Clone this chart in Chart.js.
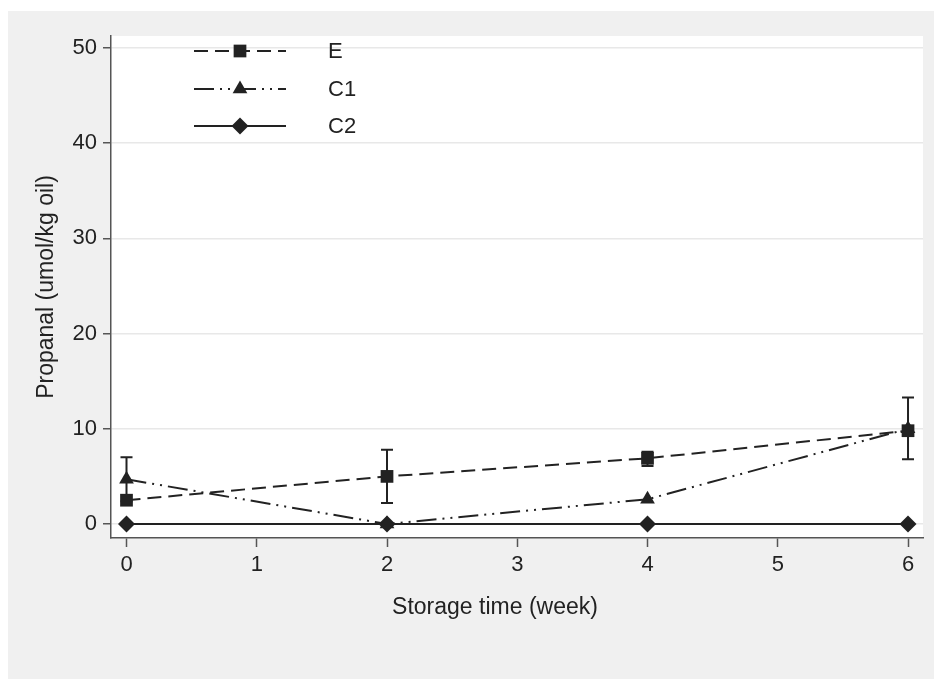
<!DOCTYPE html>
<html>
<head>
<meta charset="utf-8">
<script src="https://cdn.jsdelivr.net/npm/chart.js@4.4.1/dist/chart.umd.min.js"></script>
<style>
  body { margin: 0; background: #fff; }
  #wrap { width: 934px; height: 679px; }
</style>
</head>
<body>
<div id="wrap"><canvas id="myChart"></canvas></div>
<script>
'use strict';
let weeks = [0, 2, 4, 6];
let seriesNames = ['E', 'C1', 'C2'];
let eValues = [2.5, 5.0, 6.9, 9.8];
let c1Values = [4.7, 0, 2.6, 10.0];
let c2Values = [0, 0, 0, 0];
// error bars (low / high), null where there is none
let eLow = [null, 2.2, 6.1, null];
let eHigh = [null, 7.8, 7.6, null];
let c1Low = [2.4, null, null, 6.8];
let c1High = [7.0, null, null, 13.3];
let xTicks = [0, 1, 2, 3, 4, 5, 6];
let yTicks = [0, 10, 20, 30, 40, 50];
let xTitle = 'Storage time (week)';
let yTitle = 'Propanal (umol/kg oil)';

let ink = '#222222';
let fontFam = "'Liberation Sans', Arial, Helvetica, sans-serif";

function toPoints(vals) {
  let pts = [];
  for (let i = 0; i < weeks.length; i++) {
    pts.push({x: weeks[i], y: vals[i]});
  }
  return pts;
}

let datasets = [
  {
    label: seriesNames[0], data: toPoints(eValues),
    borderDash: [14, 7], pointStyle: 'rect', pointRadius: 9,
    errLow: eLow, errHigh: eHigh
  },
  {
    label: seriesNames[1], data: toPoints(c1Values),
    borderDash: [20, 6, 2, 6, 2, 6], pointStyle: 'triangle', pointRadius: 8.5,
    errLow: c1Low, errHigh: c1High
  },
  {
    label: seriesNames[2], data: toPoints(c2Values),
    borderDash: [], pointStyle: 'rectRot', pointRadius: 8.5
  }
];
datasets.forEach(function (ds) {
  ds.borderColor = ink;
  ds.backgroundColor = ink;
  ds.pointBackgroundColor = ink;
  ds.pointBorderColor = ink;
  ds.pointBorderWidth = 0;
  ds.borderWidth = 2;
  ds.tension = 0;
  ds.pointHoverRadius = ds.pointRadius;
});

let backPlugin = {
  id: 'backPlugin',
  beforeDraw(chart) {
    let c = chart.ctx;
    let a = chart.chartArea;
    c.save();
    c.fillStyle = '#f0f0f0';
    c.fillRect(8, 11, chart.width - 8, chart.height - 11);
    c.fillStyle = '#ffffff';
    c.fillRect(a.left, a.top, a.right - a.left, a.bottom - a.top);
    c.restore();
  }
};

let errorPlugin = {
  id: 'errorPlugin',
  beforeDatasetsDraw(chart) {
    let c = chart.ctx;
    let xs = chart.scales.x;
    let ys = chart.scales.y;
    c.save();
    c.strokeStyle = ink;
    c.lineWidth = 2;
    chart.data.datasets.forEach(function (ds) {
      if (!ds.errLow) return;
      for (let i = 0; i < weeks.length; i++) {
        if (ds.errLow[i] === null) continue;
        let px = xs.getPixelForValue(weeks[i]);
        let lo = ys.getPixelForValue(ds.errLow[i]);
        let hi = ys.getPixelForValue(ds.errHigh[i]);
        c.beginPath();
        c.moveTo(px, lo); c.lineTo(px, hi);
        c.moveTo(px - 6, lo); c.lineTo(px + 6, lo);
        c.moveTo(px - 6, hi); c.lineTo(px + 6, hi);
        c.stroke();
      }
    });
    c.restore();
  }
};

let legendPlugin = {
  id: 'legendPlugin',
  afterDraw(chart) {
    let c = chart.ctx;
    let rows = [51, 89, 126];
    c.save();
    chart.data.datasets.forEach(function (ds, i) {
      let y = rows[i];
      c.strokeStyle = ink;
      c.lineWidth = 2;
      c.setLineDash(ds.borderDash);
      c.beginPath();
      c.moveTo(194, y); c.lineTo(286, y);
      c.stroke();
      c.setLineDash([]);
      c.fillStyle = ink;
      Chart.helpers.drawPoint(c, {pointStyle: ds.pointStyle, radius: ds.pointRadius, rotation: 0, borderWidth: 0}, 240, y);
      c.fillStyle = ink;
      c.font = '22px ' + fontFam;
      c.textBaseline = 'middle';
      c.textAlign = 'left';
      c.fillText(ds.label, 328, y + 1);
    });
    // x axis title sits a little left of the plot centre
    c.font = '23px ' + fontFam;
    c.textAlign = 'center';
    c.textBaseline = 'middle';
    c.fillText(xTitle, 495, 608);
    c.restore();
  }
};

let ctx = document.getElementById('myChart').getContext('2d');

let myChartObj = {
  type: 'line',
  data: { datasets: datasets },
  plugins: [backPlugin, errorPlugin, legendPlugin],
  options: {
    responsive: true,
    maintainAspectRatio: false,
    animation: false,
    layout: { padding: { top: 36, right: 11, left: 0, bottom: 0 } },
    plugins: {
      legend: { display: false },
      tooltip: { enabled: false }
    },
    scales: {
      x: {
        type: 'linear',
        min: -0.119,
        max: 6.115,
        afterBuildTicks(scale) { scale.ticks = xTicks.map(v => ({value: v})); },
        afterFit(scale) { scale.height = 141; },
        border: { color: '#555555', width: 1.5 },
        grid: { drawOnChartArea: false, tickLength: 9, tickColor: '#555555', tickWidth: 1.5 },
        ticks: { color: ink, padding: 5, maxRotation: 0, font: { size: 22, family: fontFam } },
        title: { display: false }
      },
      y: {
        type: 'linear',
        min: -1.47,
        max: 51.26,
        afterBuildTicks(scale) { scale.ticks = yTicks.map(v => ({value: v})); },
        afterFit(scale) { scale.width = 111; },
        border: { color: '#555555', width: 1.5 },
        grid: { color: '#e8e8e8', lineWidth: 1.5, tickLength: 8, tickColor: '#555555', tickWidth: 1.5 },
        ticks: { color: ink, padding: 6, font: { size: 22, family: fontFam } },
        title: {
          display: true, text: yTitle, color: ink,
          font: { size: 23, family: fontFam }, padding: { top: 33, bottom: 0 }
        }
      }
    }
  }
};

const myChart = new Chart(ctx, myChartObj);
</script>
</body>
</html>
